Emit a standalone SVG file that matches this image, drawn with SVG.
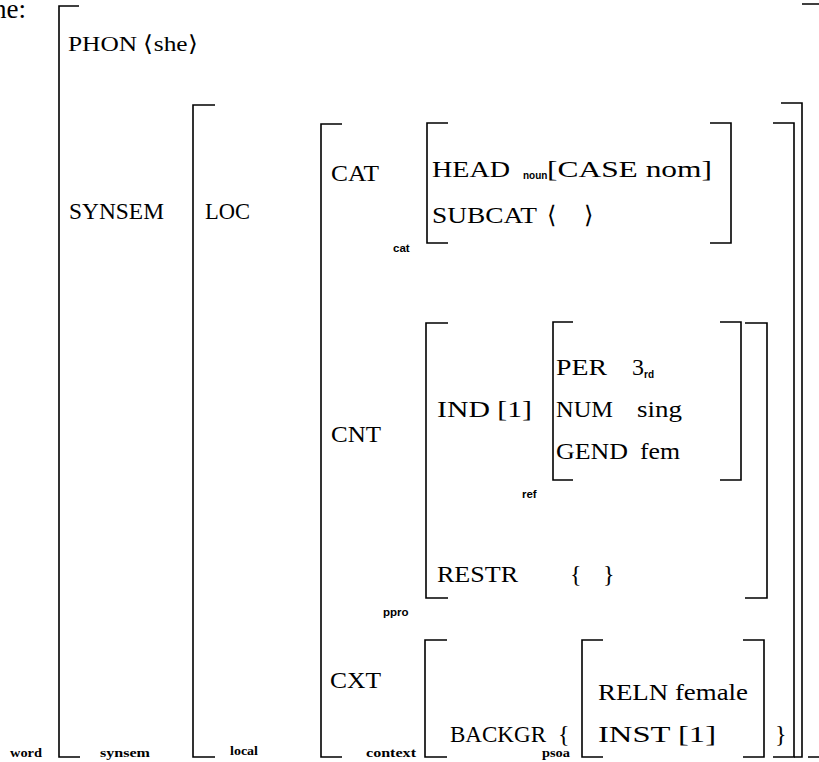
<svg xmlns="http://www.w3.org/2000/svg" width="819" height="762" viewBox="0 0 819 762">
<style>
.b{fill:none;stroke:#000;stroke-width:1.6}
.t{font-family:"Liberation Serif",serif;font-size:24px;fill:#000}
.s{font-family:"Liberation Sans",sans-serif;font-size:11.5px;font-weight:bold;fill:#000}
.l{font-family:"Liberation Serif",serif;font-size:13px;font-weight:bold;fill:#000}
</style>
<rect width="819" height="762" fill="#fff"/>
<text class="t" x="-7" y="18" style="font-size:27px">he:</text>
<g id="word">
<path class="b" d="M79,6 H59 V757 H80"/>
<path class="b" d="M802,4 H826 V757 H808"/>
<text class="t" x="68" y="51" textLength="130" lengthAdjust="spacingAndGlyphs" style="font-size:22px">PHON ⟨she⟩</text>
<text class="t" x="69" y="219" textLength="95" lengthAdjust="spacingAndGlyphs">SYNSEM</text>
<text class="l" x="10" y="757" textLength="32" lengthAdjust="spacingAndGlyphs">word</text>
</g>
<g id="synsem">
<path class="b" d="M215,105 H193 V757 H215"/>
<path class="b" d="M781,103 H802 V757 H794"/>
<text class="t" x="205" y="219" textLength="45" lengthAdjust="spacingAndGlyphs">LOC</text>
<text class="l" x="100" y="757" textLength="50" lengthAdjust="spacingAndGlyphs">synsem</text>
</g>
<g id="local">
<path class="b" d="M342,124 H321 V757 H342"/>
<path class="b" d="M773,123 H794 V757 H773"/>
<text class="t" x="331" y="181" textLength="48" lengthAdjust="spacingAndGlyphs">CAT</text>
<text class="t" x="331" y="442" textLength="50" lengthAdjust="spacingAndGlyphs">CNT</text>
<text class="t" x="330" y="688" textLength="51" lengthAdjust="spacingAndGlyphs">CXT</text>
<text class="l" x="230" y="755" textLength="28" lengthAdjust="spacingAndGlyphs">local</text>
</g>
<g id="cat">
<path class="b" d="M448,123 H427 V243 H448"/>
<path class="b" d="M710,123 H731 V243 H710"/>
<text class="t" x="432" y="177" textLength="78" lengthAdjust="spacingAndGlyphs">HEAD</text>
<text class="s" x="523" y="179" style="font-size:10px">noun</text>
<text class="t" x="547" y="177" textLength="165" lengthAdjust="spacingAndGlyphs">[CASE nom]</text>
<text class="t" x="432" y="223" textLength="105" lengthAdjust="spacingAndGlyphs">SUBCAT</text>
<text class="t" x="547" y="223">⟨</text>
<text class="t" x="584" y="223">⟩</text>
<text class="s" x="393" y="252">cat</text>
</g>
<g id="ppro">
<path class="b" d="M448,323 H426 V598 H448"/>
<path class="b" d="M745,323 H767 V598 H745"/>
<text class="t" x="437" y="417" textLength="95" lengthAdjust="spacingAndGlyphs">IND [1]</text>
<text class="t" x="437" y="582" textLength="81" lengthAdjust="spacingAndGlyphs">RESTR</text>
<text class="t" x="570" y="582">{</text>
<text class="t" x="603" y="582">}</text>
<text class="s" x="383" y="616">ppro</text>
</g>
<g id="ref">
<path class="b" d="M573,322 H553 V480 H573"/>
<path class="b" d="M720,322 H741 V480 H720"/>
<text class="t" x="556" y="375" textLength="51" lengthAdjust="spacingAndGlyphs">PER</text>
<text class="t" x="632" y="375">3<tspan class="s" dy="3" style="font-size:10px">rd</tspan></text>
<text class="t" x="556" y="417" textLength="57" lengthAdjust="spacingAndGlyphs">NUM</text>
<text class="t" x="637" y="417" textLength="45" lengthAdjust="spacingAndGlyphs">sing</text>
<text class="t" x="556" y="459" textLength="72" lengthAdjust="spacingAndGlyphs">GEND</text>
<text class="t" x="640" y="459" textLength="40" lengthAdjust="spacingAndGlyphs">fem</text>
<text class="s" x="522" y="498">ref</text>
</g>
<g id="context">
<path class="b" d="M447,640 H425 V757 H447"/>
<text class="t" x="450" y="742" textLength="96" lengthAdjust="spacingAndGlyphs">BACKGR</text>
<text class="t" x="558" y="742">{</text>
<text class="t" x="775" y="742">}</text>
<text class="l" x="366" y="757" textLength="50" lengthAdjust="spacingAndGlyphs">context</text>
</g>
<g id="psoa">
<path class="b" d="M603,640 H582 V757 H603"/>
<path class="b" d="M743,640 H764 V757 H743"/>
<text class="t" x="598" y="700" textLength="150" lengthAdjust="spacingAndGlyphs">RELN female</text>
<text class="t" x="598" y="742" textLength="118" lengthAdjust="spacingAndGlyphs">INST [1]</text>
<text class="l" x="542" y="757" textLength="28" lengthAdjust="spacingAndGlyphs">psoa</text>
</g>
</svg>
